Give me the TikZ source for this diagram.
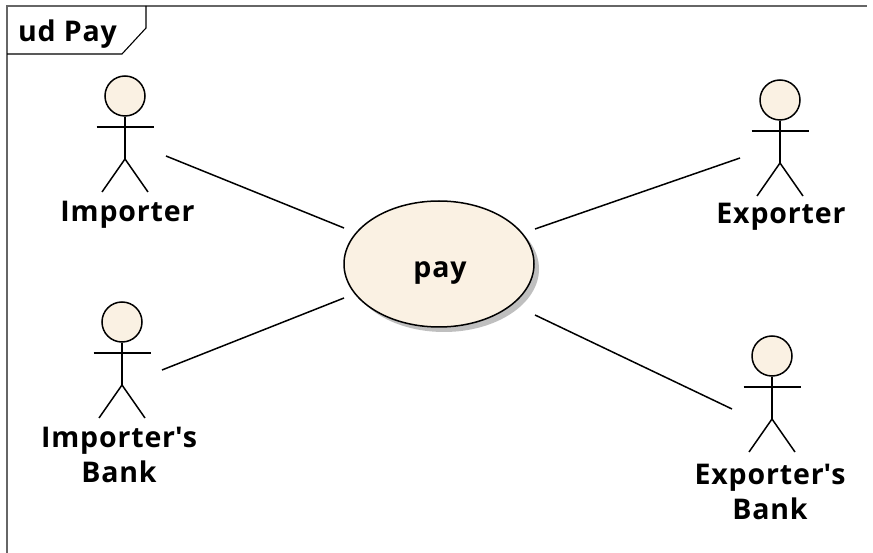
\documentclass[tikz,border=0pt]{standalone}
\usepackage{fontspec}
\setmainfont[LetterSpace=3]{Open Sans}
\usetikzlibrary{positioning,shadows,shapes.geometric}
\definecolor{usefill}{RGB}{250,241,227}
\tikzset{
  umlline/.style={line width=1.5pt,black},
  umltext/.style={font=\bfseries\fontsize{28.5pt}{34.5pt}\selectfont,inner sep=0pt},
  actorhead/.style={circle,draw,umlline,fill=usefill,minimum size=40pt,inner sep=0pt},
  actorname/.style={umltext,align=center,anchor=base},
  usecase/.style={ellipse,draw,umlline,fill=usefill,minimum width=190pt,minimum height=126pt,inner sep=0pt,
    drop shadow={shadow xshift=5pt,shadow yshift=-5pt,fill=black!25,opacity=1}},
  pics/actor/.style={code={
    \node[actorhead] (-head) at (0,0) {};
    \draw[umlline] (-head.south) -- (0,-63pt) coordinate (-hip);
    \draw[umlline] (-28.5pt,-31pt) -- (28.5pt,-31pt);
    \draw[umlline] (-23pt,-96pt) -- (-hip) -- (23pt,-96pt);
  }}
}
\begin{document}
\begin{tikzpicture}[x=1pt,y=-1pt]
\useasboundingbox (0,0) rectangle (873,553);
% frame
\draw[line width=1.3pt,black!60] (7,553) -- (7,6) -- (867,6);
\node[umltext,anchor=base] (frame_title) at (67.5,42) {ud Pay};
\draw[umlline,line width=1.1pt] (7,54) -- (122,54) -- (146,28) -- (146,6);
% actors
\pic (importer) at (125,96) {actor};
\pic (importerbank) at (122,322) {actor};
\pic (exporter) at (780,100) {actor};
\pic (exporterbank) at (772,356) {actor};
\node[actorname] (importer_name) at (127.5,222) {Importer};
\node[actorname] (importerbank_name) at (119,482) {Importer\textquotesingle s\\Bank};
\node[actorname] (exporter_name) at (781,224) {Exporter};
\node[actorname] (exporterbank_name) at (770,519) {Exporter\textquotesingle s\\Bank};
% use case
\node[usecase] (pay) at (439,264) {};
\node[umltext,anchor=base] (pay_name) at (440,278) {pay};
% free ends
\coordinate (c_importer) at (166,156);
\coordinate (c_importerbank) at (162,370);
\coordinate (c_exporter) at (740,158);
\coordinate (c_exporterbank) at (732,409);
\draw[umlline] (c_importer) -- (344,228);
\draw[umlline] (c_importerbank) -- (344,298);
\draw[umlline] (c_exporter) -- (535,229);
\draw[umlline] (c_exporterbank) -- (535,315);
\end{tikzpicture}
\end{document}
